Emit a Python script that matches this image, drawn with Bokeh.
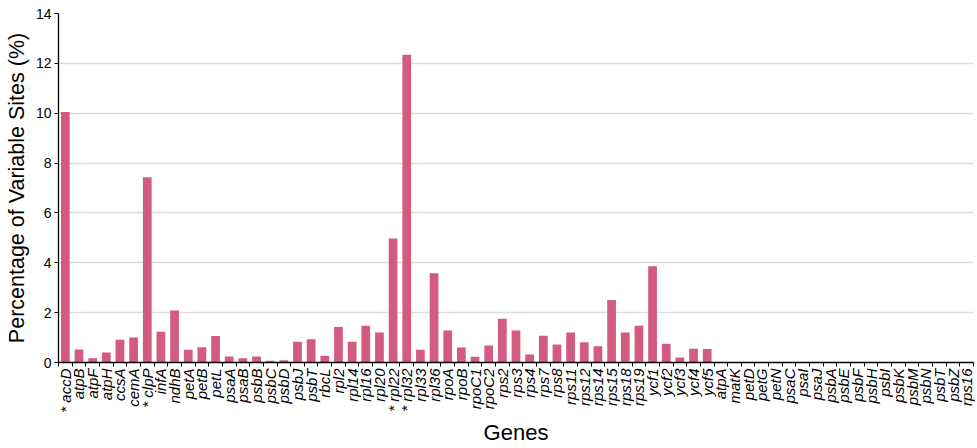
import math
from bokeh.plotting import figure
from bokeh.models import ColumnDataSource, FixedTicker, Range1d
from bokeh.embed import file_html
from bokeh.resources import INLINE

genes = ["accD", "atpB", "atpF", "atpH", "ccsA", "cemA", "clpP", "infA", "ndhB",
         "petA", "petB", "petL", "psaA", "psaB", "psbB", "psbC", "psbD", "psbJ",
         "psbT", "rbcL", "rpl2", "rpl14", "rpl16", "rpl20", "rpl22", "rpl32",
         "rpl33", "rpl36", "rpoA", "rpoB", "rpoC1", "rpoC2", "rps2", "rps3",
         "rps4", "rps7", "rps8", "rps11", "rps12", "rps14", "rps15", "rps18",
         "rps19", "ycf1", "ycf2", "ycf3", "ycf4", "ycf5", "atpA", "matK", "petD",
         "petG", "petN", "psaC", "psaI", "psaJ", "psbA", "psbE", "psbF", "psbH",
         "psbI", "psbK", "psbM", "psbN", "psbT", "psbZ", "rps16"]

variable_pct = [10.05, 0.52, 0.17, 0.40, 0.91, 1.00, 7.43, 1.23, 2.09,
                0.51, 0.61, 1.06, 0.24, 0.17, 0.24, 0.07, 0.09, 0.83,
                0.93, 0.27, 1.42, 0.83, 1.47, 1.20, 4.97, 12.35,
                0.51, 3.58, 1.28, 0.60, 0.23, 0.68, 1.76, 1.28,
                0.32, 1.07, 0.72, 1.20, 0.81, 0.65, 2.51, 1.20,
                1.47, 3.86, 0.75, 0.20, 0.55, 0.54, 0.0, 0.0, 0.0,
                0.0, 0.0, 0.0, 0.0, 0.0, 0.0, 0.0, 0.0, 0.0,
                0.0, 0.0, 0.0, 0.0, 0.0, 0.0, 0.0]

marked_genes = ["accD", "clpP", "rpl22", "rpl32"]

y_ticks = [0, 2, 4, 6, 8, 10, 12, 14]

n = len(genes)
xs = list(range(n))
labels = [("* " + g) if g in marked_genes else g for g in genes]

source = ColumnDataSource(data=dict(x=xs, top=variable_pct, gene=genes))

FONT = "Liberation Sans"

p = figure(width=975, height=448, output_backend="svg", toolbar_location=None,
           x_range=Range1d(-0.5, n - 0.5), y_range=Range1d(0, 14),
           min_border_left=58, min_border_right=2, min_border_top=13,
           min_border_bottom=86)

p.vbar(x="x", top="top", width=0.64, source=source,
       fill_color="#D35B7F", line_color=None)

p.outline_line_color = None
p.background_fill_color = "white"
p.xgrid.grid_line_color = None
p.ygrid.grid_line_color = "#DDDDDD"
p.ygrid.grid_line_width = 1.3

# x axis
xa = p.xaxis[0]
xa.ticker = FixedTicker(ticks=xs, minor_ticks=[i - 0.5 for i in range(n + 1)])
xa.major_label_overrides = {i: lab for i, lab in enumerate(labels)}
xa.major_label_orientation = math.pi / 2
xa.major_label_text_font = FONT
xa.major_label_text_font_style = "italic"
xa.major_label_text_font_size = "15px"
xa.major_label_text_color = "black"
xa.major_label_standoff = 2
xa.major_tick_out = 0
xa.major_tick_in = 0
xa.minor_tick_out = 4
xa.minor_tick_in = 0
xa.minor_tick_line_color = "black"
xa.axis_line_color = "black"
xa.axis_line_width = 1.3
xa.axis_label = "Genes"
xa.axis_label_text_font = FONT
xa.axis_label_text_font_style = "normal"
xa.axis_label_text_font_size = "22px"
xa.axis_label_text_color = "black"
xa.axis_label_standoff = 4

# y axis
ya = p.yaxis[0]
ya.ticker = FixedTicker(ticks=y_ticks)
ya.minor_tick_line_color = None
ya.major_tick_out = 4
ya.major_tick_in = 0
ya.major_tick_line_color = "black"
ya.axis_line_color = "black"
ya.axis_line_width = 1.3
ya.major_label_text_font = FONT
ya.major_label_text_font_size = "14px"
ya.major_label_text_color = "black"
ya.major_label_standoff = 3
ya.axis_label = "Percentage of Variable Sites (%)"
ya.axis_label_text_font = FONT
ya.axis_label_text_font_style = "normal"
ya.axis_label_text_font_size = "21.5px"
ya.axis_label_text_color = "black"
ya.axis_label_standoff = 4

open("out.html", "w").write(file_html(p, INLINE))
